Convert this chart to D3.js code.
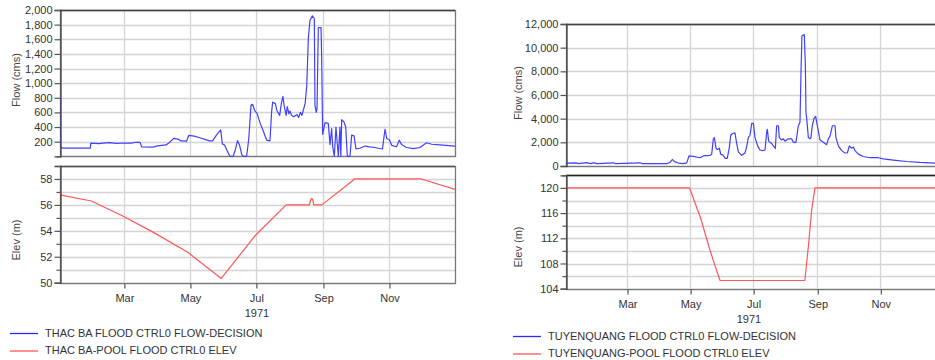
<!DOCTYPE html>
<html>
<head>
<meta charset="utf-8">
<script src="https://cdn.jsdelivr.net/npm/d3@7/dist/d3.min.js"></script>
<style>
  html, body { margin: 0; padding: 0; background: #fff; }
  svg { display: block; }
  text { font-family: "Liberation Sans", Arial, sans-serif; }
</style>
</head>
<body>
<svg id="chart" width="935" height="360"></svg>
<script>
// ---- Data: [day of 1971, value] ----
const thacBaFlow = [
  [0,800],[0.3,130],[2,112],[28,112],[28.5,180],[36,172],[40,180],[46,188],[52,176],[60,182],
  [66,180],[70,192],[74,190],[75.5,128],[86,125],[90,142],[98,155],[102,200],[105,245],[109,235],
  [112,210],[117,208],[119,285],[124,275],[130,250],[138,210],[141,210],[145,300],[148.5,360],[150,170],
  [152,155],[154,90],[157,0],[160,0],[162,90],[164,215],[166,150],[168,20],[169.5,0],[172.5,0],
  [174.5,250],[176.5,700],[178,710],[180,620],[182,590],[185,450],[188,340],[191,220],[194,210],[195.5,600],
  [196.5,740],[199,720],[200.5,620],[203,560],[204.5,720],[206,820],[207,700],[209,560],[210,680],[211.5,580],
  [212.5,620],[214,560],[216,540],[219,570],[220.5,530],[222,600],[223.5,560],[225,640],[226.5,720],[227.3,850],
  [228,960],[229.5,1620],[231,1860],[233.2,1920],[235,1880],[235.6,700],[236.8,600],[237.5,650],[238.7,1760],[241.2,1760],
  [241.8,1350],[242.7,300],[244.9,460],[247.9,450],[249.5,160],[251,380],[252,130],[253.5,0],[255,400],[257.2,0],
  [258.7,400],[259.5,0],[260.3,500],[262.4,470],[264,400],[265.5,0],[268,0],[269.5,290],[271.7,280],[273.5,100],
  [277,110],[282,140],[286,130],[291,120],[294,110],[298,100],[300.3,370],[302,240],[304.3,230],[306.5,150],
  [311,130],[313.5,220],[315.7,160],[320,120],[326.5,105],[332.6,120],[338.8,185],[343.4,165],[351,155],[365,140]
];
const thacBaElev = [
  [0,56.95],[1,56.75],[29,56.3],[58,55.15],[86,53.9],[118,52.35],[149,50.33],[180,53.6],[209,56],[230.5,56],
  [231.5,56.35],[232.5,56.5],[233.5,56.4],[234.5,56],[242,56],[270,57.85],[272,58],[334,58],[365,57.2]
];
const tuyenQuangFlow = [
  [0,250],[10,260],[12,200],[20,280],[24,200],[26.4,280],[30,200],[45.8,270],[48,200],[71.6,270],
  [74,200],[97.4,200],[100.6,300],[102.8,550],[105.4,350],[108.6,250],[113.5,200],[116.7,260],[119,850],[123.1,820],
  [129.6,700],[132.8,850],[139.3,900],[140.9,1000],[142.5,2300],[143.5,2400],[145.1,1500],[146.4,1400],[148.3,1500],[149.6,1000],
  [152.2,900],[153.8,650],[156,650],[158,1600],[159.3,2600],[161.2,2750],[163.4,2800],[165.1,1900],[166.7,1200],[169.9,900],
  [173.1,1100],[174.7,1600],[176.3,2400],[178,2600],[179.6,3600],[181.2,3600],[182.8,2400],[185.4,1700],[187.6,1350],[190.2,1300],
  [192.5,1350],[194.1,2900],[194.7,3100],[196,2100],[197.3,2000],[198.9,1900],[200.5,1700],[202.5,1500],[203.7,3400],[205.4,3400],
  [206.3,2400],[208.6,2200],[210.2,2300],[211.8,2100],[215,2300],[218.2,2300],[219.9,2000],[222.4,2000],[224.7,3400],[226.3,3700],
  [227.3,8000],[228.2,11000],[230.5,11100],[231.5,8500],[232.1,4500],[232.8,4000],[234.4,2400],[236,2300],[236.9,2400],[238.2,3400],
  [239.8,4000],[241.5,4200],[242.4,3700],[244,3000],[245.6,2200],[248.9,2000],[252.1,1800],[253.7,2300],[255.3,2500],[257.6,3400],
  [260.2,3400],[261.1,2400],[263.4,1700],[266.6,1300],[269.8,1100],[272.1,1100],[274,1700],[276.3,1500],[277.9,1600],[279.5,1300],
  [282.7,1000],[287.6,800],[294,700],[302.1,700],[306.9,600],[316.6,500],[329.5,380],[342.4,300],[356.9,250],[365,230]
];
const tuyenQuangElev = [
  [0,120],[119.5,120],[121,119.3],[130,115.3],[139.3,110.1],[145,107.2],[149,105.3],[231,105.3],[234.4,110.7],[237.6,116.5],
  [240.8,120],[365,120]
];

// Axis ticks
const monthTickLabels = ["Mar", "May", "Jul", "Sep", "Nov"];
const yearLabel = "1971";
const thacBaFlowTicks = [200, 400, 600, 800, 1000, 1200, 1400, 1600, 1800, 2000];
const thacBaElevTicks = [50, 52, 54, 56, 58];
const tuyenQuangFlowTicks = [0, 2000, 4000, 6000, 8000, 10000, 12000];
const tuyenQuangElevTicks = [104, 108, 112, 116, 120];

const thacBaLegend = ["THAC BA FLOOD CTRL0 FLOW-DECISION", "THAC BA-POOL FLOOD CTRL0 ELEV"];
const tuyenQuangLegend = ["TUYENQUANG FLOOD CTRL0 FLOW-DECISION", "TUYENQUANG-POOL FLOOD CTRL0 ELEV"];

// ---- Drawing ----
const svg = d3.select("#chart");
const FLOW_COLOR = "#4040ff";
const ELEV_COLOR = "#ff5656";
const GRID = "#d4d4d4";
const TEXT = "#333";
const t0 = Date.UTC(1971, 0, 1);
const toDate = d => new Date(t0 + d * 86400000);
const monthTicks = monthTickLabels.map(m => d3.utcParse("%b %Y")(m + " 1971"));

function plot(g, cfg) {
  const x = d3.scaleUtc().domain([new Date(t0), new Date(Date.UTC(1972, 0, 1))]).range([cfg.x0, cfg.x1]);
  const y = d3.scaleLinear().domain(cfg.domain).range([cfg.y1, cfg.y0]);

  // horizontal grid
  g.append("g").selectAll("line").data(d3.range(cfg.domain[0], cfg.domain[1] + 1e-9, cfg.gridStep))
    .join("line")
    .attr("x1", cfg.x0).attr("x2", cfg.x1)
    .attr("y1", d => Math.round(y(d)) + 0.5).attr("y2", d => Math.round(y(d)) + 0.5)
    .attr("stroke", GRID).attr("stroke-width", 1.3);
  // vertical grid
  g.append("g").selectAll("line").data(monthTicks).join("line")
    .attr("x1", d => Math.round(x(d)) + 0.5).attr("x2", d => Math.round(x(d)) + 0.5)
    .attr("y1", cfg.y0).attr("y2", cfg.y1)
    .attr("stroke", GRID).attr("stroke-width", 1.3);

  // frame
  g.append("rect").attr("x", cfg.x0 + 0.5).attr("y", Math.round(cfg.y0) + 0.5)
    .attr("width", cfg.x1 - cfg.x0).attr("height", Math.round(cfg.y1) - Math.round(cfg.y0))
    .attr("fill", "none").attr("stroke", cfg.frame).attr("stroke-width", 1.3);
  g.append("line").attr("x1", cfg.x0).attr("x2", cfg.x1)
    .attr("y1", Math.round(cfg.y0) + 0.5).attr("y2", Math.round(cfg.y0) + 0.5)
    .attr("stroke", cfg.topFrame).attr("stroke-width", 1.3);

  // data line
  const clipId = "clip" + cfg.id;
  g.append("clipPath").attr("id", clipId).append("rect")
    .attr("x", cfg.x0).attr("y", cfg.y0).attr("width", cfg.x1 - cfg.x0).attr("height", cfg.y1 - cfg.y0 + 1);
  g.append("path").datum(cfg.data)
    .attr("clip-path", `url(#${clipId})`)
    .attr("fill", "none").attr("stroke", cfg.color).attr("stroke-width", 1.2)
    .attr("stroke-linejoin", "round")
    .attr("d", d3.line().x(d => x(toDate(d[0]))).y(d => y(d[1])));

  // left axis
  const allTicks = d3.range(cfg.domain[0], cfg.domain[1] + 1e-9, cfg.tickStep);
  const ax = g.append("g").attr("transform", `translate(${cfg.x0 + 0.5},0)`)
    .call(d3.axisLeft(y).tickValues(allTicks).tickSize(6).tickPadding(2)
      .tickFormat(d => cfg.labels.includes(d) ? d3.format(",")(d) : ""));
  ax.select(".domain").attr("stroke", "#444").attr("stroke-width", 1.3);
  ax.selectAll(".tick line").attr("stroke", "#555").attr("stroke-width", 1.2);
  ax.selectAll(".tick").filter(d => !cfg.labels.includes(d)).select("line").attr("x2", -4);
  ax.selectAll("text").attr("fill", TEXT).style("font-size", "11px");

  // axis title
  g.append("text").attr("transform", `translate(${cfg.titleX},${cfg.titleY}) rotate(-90)`)
    .attr("text-anchor", "middle").attr("dy", "0.35em")
    .attr("fill", "#444").style("font-size", "11px").text(cfg.title);
  return x;
}

function bottomAxis(g, x, yPos, yearX) {
  const ax = g.append("g").attr("transform", `translate(0.5,${Math.round(yPos) + 0.5})`)
    .call(d3.axisBottom(x).tickValues(monthTicks).tickSize(5).tickPadding(6)
      .tickFormat(d3.utcFormat("%b")));
  ax.select(".domain").remove();
  ax.selectAll(".tick line").attr("stroke", "#555").attr("stroke-width", 1.2);
  ax.selectAll("text").attr("fill", TEXT).style("font-size", "11px");
  g.append("text").attr("x", yearX).attr("y", yPos + 34).attr("text-anchor", "middle")
    .attr("fill", TEXT).style("font-size", "11px").text(yearLabel);
}

function legend(g, items, colors, x, y, gap) {
  items.forEach((label, i) => {
    const yy = y + i * gap;
    g.append("line").attr("x1", x).attr("x2", x + 28).attr("y1", yy + 0.5).attr("y2", yy + 0.5)
      .attr("stroke", colors[i]).attr("stroke-width", 1.3);
    g.append("text").attr("x", x + 35).attr("y", yy).attr("dy", "0.36em")
      .attr("fill", TEXT).style("font-size", "11px").text(label);
  });
}

// Thac Ba
const left = svg.append("g");
plot(left, { id: "a", x0: 60, x1: 455, y0: 10, y1: 156.3, domain: [0, 2000], gridStep: 200, tickStep: 200,
  labels: thacBaFlowTicks, data: thacBaFlow, color: FLOW_COLOR, frame: "#777", topFrame: "#444",
  title: "Flow (cms)", titleX: 16, titleY: 80 });
const xa = plot(left, { id: "b", x0: 60, x1: 455, y0: 166, y1: 282.7, domain: [50, 59], gridStep: 1, tickStep: 1,
  labels: thacBaElevTicks, data: thacBaElev, color: ELEV_COLOR, frame: "#777", topFrame: "#555",
  title: "Elev (m)", titleX: 16, titleY: 240 });
bottomAxis(left, xa, 282.7, 257);
legend(left, thacBaLegend, ["#2a2aff", ELEV_COLOR], 10, 333, 17.5);

// Tuyen Quang
const right = svg.append("g");
plot(right, { id: "c", x0: 566, x1: 943.4, y0: 24, y1: 166, domain: [0, 12000], gridStep: 2000, tickStep: 2000,
  labels: tuyenQuangFlowTicks, data: tuyenQuangFlow, color: FLOW_COLOR, frame: "#777", topFrame: "#444",
  title: "Flow (cms)", titleX: 518, titleY: 93 });
const xb = plot(right, { id: "d", x0: 566, x1: 943.4, y0: 175.3, y1: 288.7, domain: [104, 122], gridStep: 2, tickStep: 2,
  labels: tuyenQuangElevTicks, data: tuyenQuangElev, color: ELEV_COLOR, frame: "#777", topFrame: "#222",
  title: "Elev (m)", titleX: 518, titleY: 247 });
bottomAxis(right, xb, 288.7, 749);
legend(right, tuyenQuangLegend, ["#2a2aff", ELEV_COLOR], 513, 336, 17.5);
</script>
</body>
</html>
